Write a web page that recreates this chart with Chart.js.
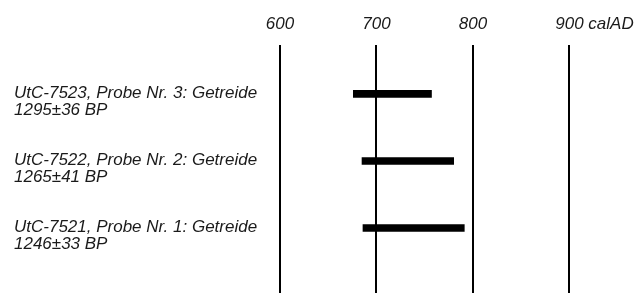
<!DOCTYPE html>
<html>
<head>
<meta charset="utf-8">
<script src="https://cdn.jsdelivr.net/npm/chart.js@4"></script>
<style>
html,body{margin:0;padding:0;background:#fff;}
#wrap{width:637px;height:293px;position:relative;}
</style>
</head>
<body>
<div id="wrap"><canvas id="c" width="637" height="293"></canvas></div>
<script>
const sampleLabels = ["UtC-7523, Probe Nr. 3: Getreide", "UtC-7522, Probe Nr. 2: Getreide", "UtC-7521, Probe Nr. 1: Getreide"];
const bpLabels = ["1295±36 BP", "1265±41 BP", "1246±33 BP"];
const rangeStart = [676, 685, 686];
const rangeEnd = [757, 780, 791];
const xTicks = [600, 700, 800, 900];
const xUnit = "calAD";

const FONT = "'Liberation Sans', Arial, Helvetica, sans-serif";
const TXT = "#1a1a1a";
const FS = 17;
const XPAD = 12;

const unitPlugin = {
  id: 'unit',
  afterDraw(chart) {
    const sx = chart.scales.x;
    const ctx = chart.ctx;
    ctx.save();
    ctx.font = "italic " + FS + "px " + FONT;
    ctx.fillStyle = TXT;
    ctx.textBaseline = 'middle';
    ctx.textAlign = 'left';
    const last = xTicks[xTicks.length - 1];
    const w = ctx.measureText(String(last)).width;
    const px = sx.getPixelForValue(last) + w / 2 + ctx.measureText(' ').width;
    const y = sx.bottom - XPAD - FS / 2;
    ctx.fillText(xUnit, px, y);
    ctx.restore();
  }
};

new Chart(document.getElementById('c'), {
  type: 'bar',
  data: {
    datasets: [{
      data: sampleLabels.map((_, i) => ({ y: i, x: [rangeStart[i], rangeEnd[i]] })),
      backgroundColor: '#000',
      borderWidth: 0,
      barThickness: 7
    }]
  },
  options: {
    indexAxis: 'y',
    responsive: false,
    animation: false,
    layout: { padding: { left: 14, right: 0, top: 4, bottom: 0 } },
    plugins: { legend: { display: false }, tooltip: { enabled: false } },
    scales: {
      x: {
        type: 'linear',
        position: 'top',
        min: 600,
        max: 970,
        afterBuildTicks: s => { s.ticks = xTicks.map(v => ({ value: v })); },
        grid: { color: '#000', lineWidth: 2, drawTicks: false },
        border: { display: false },
        ticks: {
          color: TXT,
          font: { family: FONT, size: FS, style: 'italic', lineHeight: 1.0 },
          padding: XPAD,
          maxRotation: 0,
          autoSkip: false
        }
      },
      y: {
        type: 'linear',
        reverse: true,
        offset: false,
        min: -0.73,
        max: 2.97,
        afterBuildTicks: s => { s.ticks = sampleLabels.map((_, i) => ({ value: i })); },
        afterFit: s => { s.width = 266; s.paddingTop = 0; s.paddingBottom = 0; },
        grid: { display: false, offset: false },
        border: { display: false },
        ticks: {
          crossAlign: 'far',
          labelOffset: 8,
          color: TXT,
          font: { family: FONT, size: FS, style: 'italic', lineHeight: 1.0 },
          autoSkip: false,
          callback: (v, i) => [sampleLabels[i], bpLabels[i]]
        }
      }
    }
  },
  plugins: [unitPlugin]
});
</script>
</body>
</html>
